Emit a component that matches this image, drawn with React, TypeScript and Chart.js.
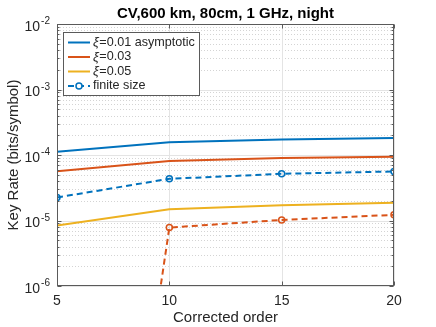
import React, { useEffect, useRef } from 'react';
import { Chart, registerables } from 'chart.js';

Chart.register(...registerables);

// ---- data ----
const orders = [5, 10, 15, 20];
const rateAsym001 = [1.12e-4, 1.57e-4, 1.73e-4, 1.81e-4];
const rateAsym003 = [5.67e-5, 8.07e-5, 8.97e-5, 9.38e-5];
const rateAsym005 = [8.38e-6, 1.49e-5, 1.71e-5, 1.86e-5];
const rateFinite001 = [2.25e-5, 4.33e-5, 5.16e-5, 5.61e-5];
const rateFinite003 = [2e-17, 7.8e-6, 1.02e-5, 1.22e-5];

const xTicks = [5, 10, 15, 20];
const xTickLabels = ['5', '10', '15', '20'];
const yDecadeExponents = [-6, -5, -4, -3, -2];
const yMinorMultipliers = [2, 3, 4, 5, 6, 7, 8, 9];

const titleText = 'CV,600 km, 80cm, 1 GHz, night';
const xAxisLabel = 'Corrected order';
const yAxisLabel = 'Key Rate (bits/symbol)';

const BLUE = '#0072BD';
const ORANGE = '#D95319';
const YELLOW = '#EDB120';

const legendGreek = ['ξ', 'ξ', 'ξ', ''];
const legendTexts = ['=0.01 asymptotic', '=0.03', '=0.05', 'finite size'];
const legendColors = [BLUE, ORANGE, YELLOW, BLUE];
const legendDashed = [false, false, false, true];

const FONT = '"Liberation Sans", Arial, Helvetica, sans-serif';
const AXIS_COLOR = '#5a5a5a';
const TEXT_COLOR = '#262626';

const pts = (ys: number[]) => orders.map((x, i) => ({ x, y: ys[i] }));

const decorPlugin = {
  id: 'matlabDecor',
  beforeDatasetsDraw(chart: any) {
    const { ctx, chartArea: a, scales } = chart;
    const xs = scales.x;
    const ys = scales.y;
    ctx.save();
    ctx.lineWidth = 1;
    // minor horizontal grid (dotted)
    ctx.setLineDash([1, 2]);
    ctx.strokeStyle = '#d4d4d4';
    for (let i = 0; i < yDecadeExponents.length - 1; i++) {
      for (const m of yMinorMultipliers) {
        const y = Math.round(ys.getPixelForValue(m * Math.pow(10, yDecadeExponents[i]))) + 0.5;
        ctx.beginPath();
        ctx.moveTo(a.left, y);
        ctx.lineTo(a.right, y);
        ctx.stroke();
      }
    }
    // major grid
    ctx.setLineDash([]);
    ctx.strokeStyle = '#e4e4e4';
    for (const e of yDecadeExponents) {
      const y = Math.round(ys.getPixelForValue(Math.pow(10, e))) + 0.5;
      ctx.beginPath();
      ctx.moveTo(a.left, y);
      ctx.lineTo(a.right, y);
      ctx.stroke();
    }
    for (const t of xTicks) {
      const x = Math.round(xs.getPixelForValue(t)) + 0.5;
      ctx.beginPath();
      ctx.moveTo(x, a.top);
      ctx.lineTo(x, a.bottom);
      ctx.stroke();
    }
    ctx.restore();
  },
  afterDatasetsDraw(chart: any) {
    const { ctx, chartArea: a, scales } = chart;
    const xs = scales.x;
    const ys = scales.y;
    ctx.save();
    ctx.setLineDash([]);
    ctx.lineWidth = 1;
    ctx.strokeStyle = AXIS_COLOR;
    const L = a.left + 0.5;
    const R = a.right - 0.5;
    const T = a.top + 0.5;
    const B = a.bottom - 0.5;
    ctx.strokeRect(L, T, R - L, B - T);

    // ticks
    ctx.beginPath();
    for (const e of yDecadeExponents) {
      const y = Math.round(ys.getPixelForValue(Math.pow(10, e))) + 0.5;
      ctx.moveTo(L, y); ctx.lineTo(L + 4, y);
      ctx.moveTo(R, y); ctx.lineTo(R - 4, y);
    }
    for (let i = 0; i < yDecadeExponents.length - 1; i++) {
      for (const m of yMinorMultipliers) {
        const y = Math.round(ys.getPixelForValue(m * Math.pow(10, yDecadeExponents[i]))) + 0.5;
        ctx.moveTo(L, y); ctx.lineTo(L + 2, y);
        ctx.moveTo(R, y); ctx.lineTo(R - 2, y);
      }
    }
    for (const t of xTicks) {
      const x = Math.round(xs.getPixelForValue(t)) + 0.5;
      ctx.moveTo(x, B); ctx.lineTo(x, B - 4);
      ctx.moveTo(x, T); ctx.lineTo(x, T + 4);
    }
    ctx.stroke();

    // x tick labels
    ctx.fillStyle = TEXT_COLOR;
    ctx.font = `14px ${FONT}`;
    ctx.textAlign = 'center';
    ctx.textBaseline = 'middle';
    xTicks.forEach((t, i) => {
      ctx.fillText(xTickLabels[i], xs.getPixelForValue(t), a.bottom + 15);
    });

    // y tick labels 10^e
    for (const e of yDecadeExponents) {
      const y = ys.getPixelForValue(Math.pow(10, e));
      const expStr = String(e);
      ctx.font = `10px ${FONT}`;
      const ew = ctx.measureText(expStr).width;
      const expRight = a.left - 7;
      ctx.textAlign = 'right';
      ctx.fillText(expStr, expRight, y - 2.5);
      ctx.font = `14px ${FONT}`;
      ctx.fillText('10', expRight - ew - 1, y + 3);
    }

    // axis labels
    ctx.font = `15px ${FONT}`;
    ctx.textAlign = 'center';
    ctx.textBaseline = 'middle';
    ctx.fillText(xAxisLabel, (a.left + a.right) / 2, 318);
    ctx.save();
    ctx.translate(14, (a.top + a.bottom) / 2);
    ctx.rotate(-Math.PI / 2);
    ctx.fillText(yAxisLabel, 0, 0);
    ctx.restore();

    // title
    ctx.font = `bold 15px ${FONT}`;
    ctx.fillStyle = '#000';
    ctx.fillText(titleText, (a.left + a.right) / 2, 14);

    // legend
    const bx = 63.5, by = 32.5, bw = 136, bh = 63;
    ctx.fillStyle = '#fff';
    ctx.fillRect(bx, by, bw, bh);
    ctx.strokeStyle = AXIS_COLOR;
    ctx.lineWidth = 1;
    ctx.strokeRect(bx, by, bw, bh);
    legendTexts.forEach((txt, i) => {
      const ry = 42.5 + i * 14.5;
      ctx.strokeStyle = legendColors[i];
      ctx.lineWidth = 2;
      ctx.setLineDash(legendDashed[i] ? [6, 4] : []);
      ctx.beginPath();
      ctx.moveTo(68, ry);
      ctx.lineTo(90, ry);
      ctx.stroke();
      ctx.setLineDash([]);
      if (legendDashed[i]) {
        ctx.lineWidth = 1.5;
        ctx.beginPath();
        ctx.arc(79, ry, 3, 0, Math.PI * 2);
        ctx.fillStyle = '#fff';
        ctx.fill();
        ctx.stroke();
      }
      ctx.fillStyle = TEXT_COLOR;
      ctx.textAlign = 'left';
      ctx.textBaseline = 'middle';
      let tx = 93;
      if (legendGreek[i]) {
        ctx.font = `italic 13px ${FONT}`;
        ctx.fillText(legendGreek[i], tx, ry);
        tx += ctx.measureText(legendGreek[i]).width + 0.5;
      }
      ctx.font = `12.6px ${FONT}`;
      ctx.fillText(txt, tx, ry);
    });
    ctx.restore();
  },
};

export default function App() {
  const canvasRef = useRef<HTMLCanvasElement | null>(null);

  useEffect(() => {
    if (!canvasRef.current) return;
    const lineDs = (label: string, ys: number[], color: string, dashed: boolean) => ({
      label,
      data: pts(ys),
      borderColor: color,
      backgroundColor: 'transparent',
      borderWidth: 2,
      borderDash: dashed ? [6, 4] : [],
      pointRadius: dashed ? 3 : 0,
      pointBorderWidth: 1.5,
      pointBackgroundColor: 'transparent',
      pointBorderColor: color,
      tension: 0,
      fill: false,
    });
    const chart = new Chart(canvasRef.current, {
      type: 'line',
      data: {
        datasets: [
          lineDs('ξ=0.01 asymptotic', rateAsym001, BLUE, false),
          lineDs('ξ=0.03', rateAsym003, ORANGE, false),
          lineDs('ξ=0.05', rateAsym005, YELLOW, false),
          lineDs('finite size', rateFinite001, BLUE, true),
          lineDs('finite size ξ=0.03', rateFinite003, ORANGE, true),
        ],
      },
      options: {
        responsive: false,
        animation: false,
        devicePixelRatio: 1,
        layout: { padding: { left: 57, right: 42, top: 24, bottom: 41 } },
        plugins: { legend: { display: false }, title: { display: false }, tooltip: { enabled: false } },
        scales: {
          x: { type: 'linear', min: 5, max: 20, display: false },
          y: { type: 'logarithmic', min: 1e-6, max: 1e-2, display: false },
        },
      },
      plugins: [decorPlugin],
    } as any);
    return () => chart.destroy();
  }, []);

  return (
    <div style={{ position: 'absolute', left: 0, top: 0, width: 436, height: 327, background: '#fff' }}>
      <canvas ref={canvasRef} width={436} height={327} style={{ display: 'block' }} />
    </div>
  );
}
